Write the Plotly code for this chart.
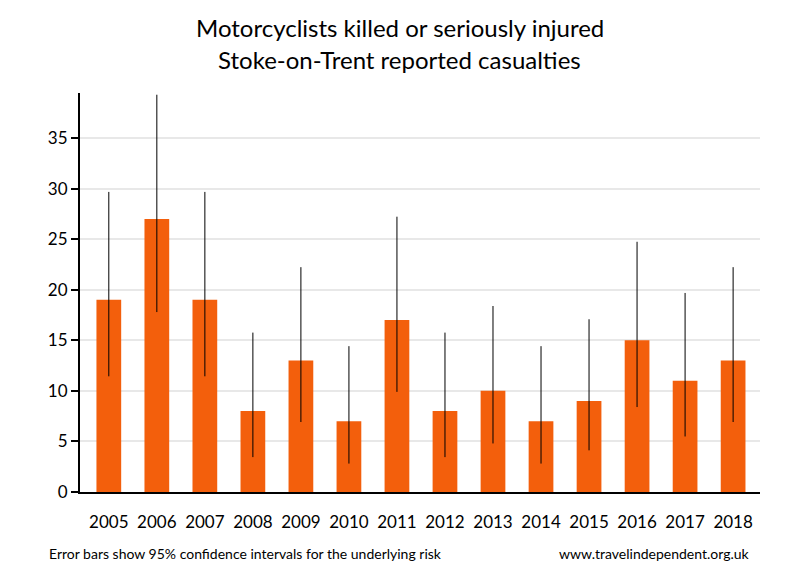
import plotly.graph_objects as go

years = ["2005", "2006", "2007", "2008", "2009", "2010", "2011",
         "2012", "2013", "2014", "2015", "2016", "2017", "2018"]
casualties = [19, 27, 19, 8, 13, 7, 17, 8, 10, 7, 9, 15, 11, 13]
ci_low = [11.44, 17.79, 11.44, 3.45, 6.92, 2.81, 9.90, 3.45, 4.80, 2.81, 4.12, 8.40, 5.49, 6.92]
ci_high = [29.67, 39.28, 29.67, 15.76, 22.23, 14.42, 27.22, 15.76, 18.39, 14.42, 17.08, 24.74, 19.68, 22.23]
y_ticks = [0, 5, 10, 15, 20, 25, 30, 35]
title_lines = ["Motorcyclists killed or seriously injured", "Stoke-on-Trent reported casualties"]

pos = list(range(len(years)))
err_plus = [h - v for h, v in zip(ci_high, casualties)]
err_minus = [v - l for v, l in zip(casualties, ci_low)]

FONT = "Lato"

fig = go.Figure()
fig.add_trace(go.Bar(
    x=pos, y=casualties, width=0.515,
    marker=dict(color="#F35F0C", line=dict(width=0)),
    error_y=dict(type="data", symmetric=False, array=err_plus, arrayminus=err_minus,
                 color="black", thickness=1, width=0),
    hoverinfo="skip",
))

annotations = [
    dict(text=title_lines[0], xref="paper", yref="paper", x=0.47, y=1.163,
         xanchor="center", yanchor="middle", showarrow=False,
         font=dict(size=24, family=FONT, color="black")),
    dict(text=title_lines[1], xref="paper", yref="paper", x=0.47, y=1.083,
         xanchor="center", yanchor="middle", showarrow=False,
         font=dict(size=24, family=FONT, color="black")),
    dict(text="Error bars show 95% confidence intervals for the underlying risk",
         xref="paper", yref="paper", x=-0.0485, y=-0.153, xanchor="left", yanchor="middle",
         showarrow=False, font=dict(size=14, family=FONT, color="black")),
    dict(text="www.travelindependent.org.uk",
         xref="paper", yref="paper", x=0.988, y=-0.153, xanchor="right", yanchor="middle",
         showarrow=False, font=dict(size=14, family=FONT, color="black")),
]

fig.update_layout(
    width=792, height=572,
    paper_bgcolor="white", plot_bgcolor="white",
    margin=dict(l=72, r=40, t=85, b=88),
    showlegend=False,
    font=dict(family=FONT, color="black"),
    annotations=annotations,
)

fig.update_xaxes(
    range=[-0.6, 13.56],
    tickmode="array", tickvals=pos, ticktext=years,
    showgrid=False, zeroline=False,
    showline=True, linecolor="black", linewidth=2,
    ticks="", ticklabelstandoff=14,
    tickfont=dict(size=17, family=FONT, color="black"),
)
fig.update_yaxes(
    range=[0, 39.45],
    tickmode="array", tickvals=y_ticks,
    showgrid=True, gridcolor="#e8e8e8", gridwidth=2,
    zeroline=False,
    showline=True, linecolor="black", linewidth=2,
    ticks="outside", ticklen=7, tickwidth=2, tickcolor="black",
    tickfont=dict(size=17, family=FONT, color="black"),
)

fig.write_html("out.html")
